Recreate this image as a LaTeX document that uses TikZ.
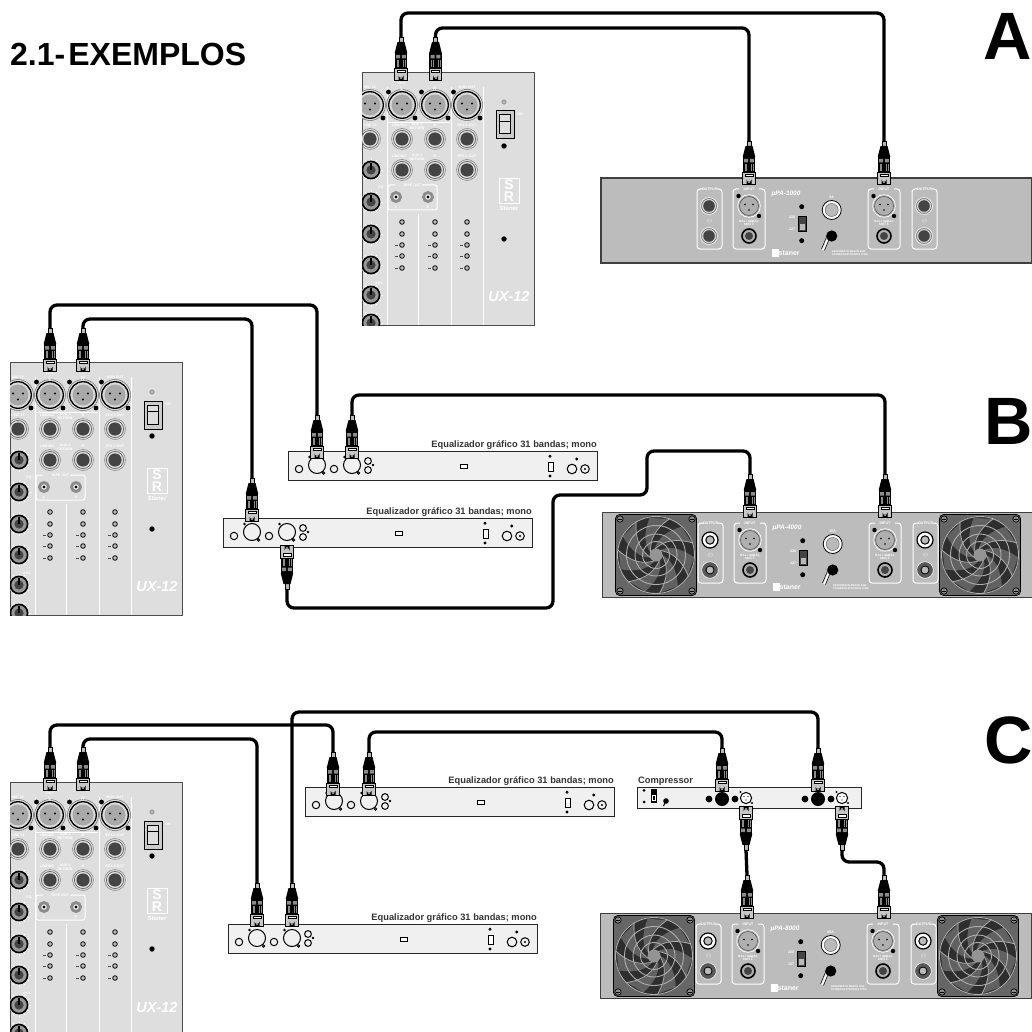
\documentclass[tikz,border=0pt]{standalone}
\usepackage{fontspec}
\setmainfont{Liberation Sans}
\definecolor{mixgray}{HTML}{DEDEDE}
\definecolor{eqgray}{HTML}{F0F0F0}
\definecolor{ampgray}{HTML}{BCBCBC}
\definecolor{darkfill}{HTML}{444444}
\definecolor{midfill}{HTML}{8C8C8C}
\tikzset{
  x=1pt,y=-1pt,
  cable/.style={line width=3.3pt,rounded corners=7pt,black},
  panelmix/.style={fill=mixgray,draw=black!70,line width=0.7pt},
  paneleq/.style={fill=eqgray,draw=black!85,line width=1pt},
  panelamp/.style={fill=ampgray,draw=black!75,line width=0.8pt},
  whiteline/.style={draw=white,line width=0.8pt},
  tiny/.style={text=white,font=\fontsize{3.6}{4}\selectfont\bfseries,inner sep=0pt,align=center},
  eqlabel/.style={font=\fontsize{9.3}{11}\selectfont\bfseries,text=black!80,inner sep=0pt},
  bigletter/.style={font=\fontsize{67}{70}\selectfont\bfseries,inner sep=0pt,anchor=base west},
  hole/.style={draw=black,line width=0.8pt,fill=none},
  holew/.style={draw=black,line width=0.9pt,fill=eqgray},
}
% plug whose cable enters from above; local height 44
\newcommand{\plugbody}{%
  \fill[midfill!60] (-2,0) rectangle (2,6);
  \draw[black,line width=0.5pt] (-2,0) rectangle (2,6);
  \fill[black] (-3.5,5) -- (3.5,5) -- (6.3,16) -- (-6.3,16) -- cycle;
  \fill[black] (-6.3,16) rectangle (6.3,31);
  \fill[midfill] (-4.8,18) rectangle (-0.8,21.5) (0.8,18) rectangle (4.8,21.5);
  \foreach \u in {-4.2,-2.5,2.5,4.2}{\draw[midfill,line width=0.4pt] (\u,23) -- (\u,30);}
  \draw[black,fill=black!22,line width=0.9pt] (-6.3,31) rectangle (6.3,43.5);
  \draw[black,fill=white,line width=0.5pt] (-4,33.2) rectangle (4,35.4);
  \fill[black] (-2.5,43.5) -- (-2.5,38.5) arc[start angle=180,end angle=0,radius=2.5] -- (2.5,43.5) -- cycle;
  \fill[midfill] (-1,40) rectangle (1,42);
}
\newcommand{\plugdown}[3]{%
  \coordinate (#1) at (#2,#3);
  \begin{scope}[shift={(#2,#3)}]\plugbody\end{scope}}
\newcommand{\plugup}[3]{%
  \coordinate (#1) at (#2,#3);
  \begin{scope}[shift={(#2,#3)},yscale=-1]\plugbody\end{scope}}
% XLR on mixer
\newcommand{\mixxlr}[2]{%
  \begin{scope}[shift={(#1,#2)}]
  \draw[black!60,line width=0.5pt,fill=mixgray] (0,0) circle (15.5);
  \draw[black,line width=1.3pt,fill=white!85!black] (0,0) circle (13.3);
  \fill[midfill!75] (0,0) circle (10.5);
  \fill[black] (-5,-1.5) circle (1.1) (5,-1.5) circle (1.1) (0,4.5) circle (1.1);
  \fill[black] (-13.5,-13) circle (2.4) (13,13) circle (2.4);
  \end{scope}}
\newcommand{\mixjack}[2]{%
  \begin{scope}[shift={(#1,#2)}]
  \draw[black!50,line width=0.5pt] (0,0) circle (10.5);
  \draw[black!60,line width=0.7pt,fill=mixgray] (0,0) circle (8.6);
  \fill[darkfill] (0,0) circle (6.6);
  \end{scope}}
\newcommand{\mixknob}[2]{%
  \begin{scope}[shift={(#1,#2)}]
  \foreach \a in {0,30,...,330}{\draw[white,line width=0.7pt] (\a:9.5) -- (\a:11.5);}
  \draw[black,line width=1.6pt,fill=midfill!90] (0,0) circle (8.6);
  \fill[darkfill] (0,0) circle (4.6);
  \draw[black,line width=1.6pt] (0,0) -- (0,-7);
  \end{scope}}
\newcommand{\mixled}[2]{%
  \draw[black,line width=0.8pt,fill=midfill!60] (#1,#2) circle (2.3);}
\newcommand{\drawmixer}[2]{%
  \begin{scope}[shift={(#1,#2)}]
  \path[panelmix] (0,0) rectangle (172,253);
  \begin{scope}
  \clip (0,0) rectangle (172,253);
  \draw[whiteline] (25,15) -- (25,253) (89,15) -- (89,253) (121,15) -- (121,253) (56,142) -- (56,253) (25,50) -- (88,50);
  \mixxlr{8}{33}\mixxlr{40}{33}\mixxlr{73}{33}\mixxlr{105}{33}
  \foreach \u in {8,40,73,105}{\mixjack{\u}{67}}
  \foreach \u in {40,73,105}{\mixjack{\u}{98}}
  \foreach \v in {98,130,162,193,223,251}{\mixknob{9}{\v}}
  \foreach \u in {40,73,105}{\foreach \v in {150,162,173,184,196}{\mixled{\u}{\v}}
    \draw[black!70,line width=0.5pt] (\u-7,173) -- (\u-4.5,173) (\u-7,184) -- (\u-4.5,184) (\u-7,196) -- (\u-4.5,196);}
  \draw[white,line width=1pt,rounded corners=2pt] (48,113) -- (75,113) -- (75,138) -- (26,138) -- (26,113) -- (33,113);
  \draw[midfill,line width=3pt,fill=white] (34,125) circle (4.4) (66,125) circle (4.4);
  \fill[black] (34,125) circle (1.7) (66,125) circle (1.7);
  \node[tiny] at (40,9.5) {MASTER\\OUT};
  \node[tiny,font=\fontsize{5}{5}\selectfont\bfseries] at (40,16.5) {L};
  \node[tiny,font=\fontsize{5}{5}\selectfont\bfseries] at (73,16.5) {R};
  \node[tiny] at (8,15) {MIC 12};
  \node[tiny] at (105,15) {MON OUT};
  \node[tiny] at (8,53) {LINE 12};
  \node[tiny] at (37,53) {L/MONO};
  \node[tiny] at (55,54) {AUX 1\\RETURN};
  \node[tiny] at (73,53) {R};
  \node[tiny] at (105,53) {EFX 2 OUT};
  \node[tiny] at (37,84) {L/MONO};
  \node[tiny] at (55,85) {AUX 2\\RETURN};
  \node[tiny] at (73,84) {R};
  \node[tiny] at (105,84) {EFX 1 OUT};
  \node[tiny,fill=mixgray,inner sep=0.6pt] at (50,113) {TAPE OUT};
  \node[tiny] at (34,135) {L};
  \node[tiny] at (66,135) {R};
  \node[tiny] at (19,116) {EQ};
  \node[tiny] at (17,211) {AUX};
  \node[tiny] at (158,42) {ON};
  % switch
  \draw[black!40,line width=0.7pt,fill=midfill!70] (142,30) circle (2.2);
  \draw[black,line width=1pt,fill=midfill!45] (134,39) rectangle (152,67);
  \draw[black,line width=1pt,fill=mixgray] (137.5,43) rectangle (148.5,62);
  \draw[black,line width=0.8pt] (137.5,49) -- (148.5,49);
  \fill[black] (142,74) circle (2.7) (142,167) circle (2.7);
  % logo
  \draw[white,line width=0.9pt] (137,106) rectangle (157,131);
  \node[text=white,inner sep=0pt,align=center,font=\fontsize{14}{12.3}\selectfont\bfseries] at (147,118.5) {S\\R};
  \node[text=white,inner sep=0pt,font=\fontsize{6}{6}\selectfont\bfseries\itshape] at (147,136) {Staner};
  \node[text=white,inner sep=0pt,font=\fontsize{14.5}{15}\selectfont\bfseries\itshape] at (147,225) {UX-12};
  \end{scope}
  \end{scope}}
% equaliser
\newcommand{\drawequ}[2]{%
  \begin{scope}[shift={(#1,#2)}]
  \path[paneleq] (0,0) rectangle (309,29);
  \draw[hole,line width=1pt] (11,18) circle (3.7) (29,14) circle (8.5) (46,18) circle (3.7) (64,14) circle (8.5)
     (80,10) circle (3.4) (80,19) circle (3.4) (284,18) circle (4.8) (297,18) circle (4.3);
  \draw[hole] (35.5,22) circle (1.2) (70.5,22) circle (1.2) (262,5.3) circle (1.1) (297,18) circle (0.5);
  \fill[black] (21.5,6) circle (1.3) (56.5,6) circle (1.3) (85,14) circle (1.3) (262,25) circle (1.6) (288.7,8) circle (1.6);
  \draw[black,line width=1pt,fill=white] (172,13.5) rectangle (179,17);
  \draw[black,line width=1pt,fill=white] (260,11) rectangle (265,20);
  \node[eqlabel,anchor=base east] at (309,-4) {Equalizador gráfico 31 bandas; mono};
  \end{scope}}
% fan
\newcommand{\drawfan}[2]{%
  \begin{scope}[shift={(#1,#2)}]
  \draw[black,line width=0.6pt,fill=black!60,rounded corners=4pt] (-40.5,-40.5) rectangle (40.5,40.5);
  \foreach \sx/\sy in {-36/-36,36/-36,-36/36,36/36}{
    \draw[black,line width=0.7pt,fill=midfill] (\sx,\sy) circle (3.2);
    \draw[black,line width=0.6pt] (\sx-2,\sy) -- (\sx+2,\sy);}
  \fill[black!82] (0,0) circle (39);
  \foreach \a in {0,51.4,102.8,154.2,205.6,257,308.4}{
    \fill[black!62] (\a:6) .. controls (\a+40:14) and (\a+55:24) .. (\a+85:38) -- (\a+55:38) .. controls (\a+30:24) and (\a+15:14) .. cycle;
    \draw[midfill!70!white,line width=0.7pt] (\a:6) .. controls (\a+40:14) and (\a+55:24) .. (\a+85:39);
  }
  \draw[midfill!70!white,line width=0.9pt] (0,0) circle (38.5) (0,0) circle (29.5) (0,0) circle (21) (0,0) circle (13.5);
  \fill[black!42] (0,0) circle (6.5);
  \end{scope}}
% amplifier; #3 model, #4 fuse, #5 = 1 with fans
\newcommand{\ampxlr}[2]{%
  \begin{scope}[shift={(#1,#2)}]
  \draw[white,line width=0.7pt,fill=midfill!70] (0,0) circle (11.3);
  \draw[black!70,line width=0.5pt] (0,0) circle (9.5);
  \fill[black] (-4,-1.5) circle (0.9) (4,-1.5) circle (0.9) (0,4) circle (0.9);
  \fill[black] (-10.5,-10) circle (2.2) (10,10) circle (2.2);
  \end{scope}}
\newcommand{\ampjackdark}[2]{%
  \draw[white,line width=0.5pt] (#1,#2) circle (8.5);
  \draw[black!60,line width=0.5pt,fill=ampgray!60] (#1,#2) circle (7.5);
  \fill[darkfill] (#1,#2) circle (5.8);}
\newcommand{\ampjackin}[2]{%
  \draw[black,line width=1.6pt,fill=midfill!70] (#1,#2) circle (7);
  \fill[darkfill] (#1,#2) circle (4);}
\newcommand{\ampjackwhite}[2]{%
  \draw[black,line width=1.2pt,fill=white] (#1,#2) circle (8);
  \draw[black,line width=1pt,fill=midfill!60] (#1,#2) circle (4.2);}
\newcommand{\ampjackgray}[2]{%
  \draw[white,line width=0.6pt,fill=black!65] (#1,#2) circle (8.3);
  \draw[black,line width=0.8pt,fill=midfill!60] (#1,#2) circle (4);}
\newcommand{\drawamp}[6]{%
  \begin{scope}[shift={(#1,#2)}]
  \path[panelamp,line width=#6] (0,0) rectangle (431,85);
  \ifnum#5=1 \drawfan{54}{43}\drawfan{378}{43}\fi
  \foreach \bl/\br in {96/121,311/336,132/164,267/299}{
    \draw[white,line width=1pt,rounded corners=3pt] (\bl+6,11) -- (\bl,11) -- (\bl,71) -- (\br,71) -- (\br,11) -- (\br-6,11);}
  \foreach \u in {108.5,323.5}{\node[tiny] at (\u,11) {OUTPUT};\node[tiny,font=\fontsize{4.5}{5}\selectfont] at (\u,43) {$\ominus$};}
  \foreach \u in {148,283}{\node[tiny] at (\u,11) {INPUT};\node[tiny,font=\fontsize{3}{3.5}\selectfont\bfseries] at (\u,45) {BAL / UNBAL\\600$\Omega$};
    \ampxlr{\u}{28}\ampjackin{\u}{58}}
  \ifnum#5=1 \ampjackwhite{108}{28}\ampjackgray{108}{58}\ampjackwhite{323}{28}\ampjackgray{323}{58}
  \else \ampjackdark{108}{28}\ampjackdark{108}{58}\ampjackdark{323}{28}\ampjackdark{323}{58}\fi
  \node[text=white,inner sep=0pt,font=\fontsize{6.5}{7}\selectfont\bfseries\itshape] at (185,15.5) {#3};
  \fill[black] (200.7,28.7) circle (2.5) (200.7,62.7) circle (2.5);
  \draw[black,fill=darkfill,line width=0.6pt] (197,38.5) rectangle (205,53.5);
  \fill[midfill!60] (198.5,46) rectangle (203.5,52);
  \node[tiny,text=white] at (191,39.5) {220};
  \node[tiny,text=white] at (191,51) {127};
  \node[tiny] at (230.7,19) {#4};
  \draw[black,line width=0.8pt,fill=white] (230.7,32) circle (9.5);
  \draw[black!60,line width=0.5pt,fill=midfill!60] (230.7,32) circle (6.5);
  \draw[white,line width=1.6pt] (222,72) -- (227,60);
  \draw[black,line width=0.5pt] (220.5,71) -- (225.5,59) (223.5,72.5) -- (228.5,60.5);
  \fill[black] (230.7,58) circle (5.6);
  \draw[white,line width=0.5pt,fill=white] (171,71.5) rectangle (177,78.5);
  \node[text=white,inner sep=0pt,anchor=west,font=\fontsize{7}{7}\selectfont\bfseries] at (177.5,75) {staner};
  \node[tiny,anchor=north west,align=left,font=\fontsize{2.6}{3.2}\selectfont\bfseries] at (231,72) {DESIGNED IN BRAZIL FOR\\STANER ELETRONICA LTDA};
  \end{scope}}
\begin{document}
\begin{tikzpicture}
\useasboundingbox (0,0) rectangle (1032,1032);
\clip (0,0) rectangle (1032,1032);
\fill[white] (0,0) rectangle (1032,1032);
\node[inner sep=0pt,anchor=base west,font=\fontsize{32}{34}\selectfont\bfseries] (title) at (10,66) {2.1-\kern3pt EXEMPLOS};
\node[bigletter] (la) at (983,60) {A};
\node[bigletter] (lb) at (984,444) {B};
\node[bigletter] (lc) at (984,763) {C};
% ---- A
\drawmixer{362}{72}
\drawamp{601}{178}{µPA-1000}{5A}{0}{2pt}
% ---- B
\drawmixer{10}{362}
\drawequ{288}{451}
\drawequ{223}{518}
\drawamp{602}{512}{µPA-4000}{15A}{1}{0.8pt}
% ---- C
\drawmixer{10}{782}
\drawequ{305}{787}
\drawequ{228}{924}
\drawamp{600}{913}{µPA-8000}{25A}{1}{0.8pt}
% compressor
\begin{scope}[shift={(637,787)}]
  \path[paneleq] (0,0) rectangle (224,21);
  \node[eqlabel,anchor=base west] (comp) at (1,-4) {Compressor};
  \fill[black] (7,3.3) circle (1.5) (7,15) circle (1.5);
  \fill[black] (14,2) rectangle (20,16);
  \draw[white,line width=0.6pt] (15.5,8) rectangle (18.5,13.5);
  \draw[black,line width=1pt] (29,14) -- (26.5,19);
  \fill[black] (29,14) circle (2.8);
  \foreach \u in {72,168}{
    \fill[black] (\u,12) circle (3.4) (\u+13,12) circle (7) (\u+26,12) circle (3.4);
    \draw[black,line width=1pt,fill=white] (\u+37,11) circle (5.6);
    \fill[black] (\u+35,9.5) circle (0.7) (\u+39,9.5) circle (0.7) (\u+37,13) circle (0.7);
    \fill[black] (\u+31.5,5) circle (1.2) (\u+43,16) circle (1.2);
  }
\end{scope}
% plugs
\plugdown{aMl}{401}{37}
\plugdown{aMr}{435.5}{37}
\plugdown{aAl}{749}{141}
\plugdown{aAr}{884}{141}
\plugdown{bMl}{50}{328}
\plugdown{bMr}{83}{328}
\plugdown{bEa}{317}{415}
\plugdown{bEb}{352}{415}
\plugdown{bEc}{252}{478}
\plugup{bEd}{287}{589}
\plugdown{bAl}{750}{474}
\plugdown{bAr}{885}{474}
\plugdown{cMl}{50}{747}
\plugdown{cMr}{83}{747}
\plugdown{cEa}{333}{752}
\plugdown{cEb}{369}{752}
\plugdown{cEc}{257}{883}
\plugdown{cEd}{292}{883}
\plugdown{cCa}{722}{748}
\plugdown{cCb}{818}{748}
\plugup{cCc}{746}{850}
\plugup{cCd}{842}{850}
\plugdown{cAl}{747}{875}
\plugdown{cAr}{884}{875}
% cables
\draw[cable] (aMl) -- (aMl |- 0,13) -- (aAr |- 0,13) -- (aAr);
\draw[cable] (aMr) -- (aMr |- 0,28) -- (aAl |- 0,28) -- (aAl);
\draw[cable] (bMl) -- (bMl |- 0,305) -- (bEa |- 0,305) -- (bEa);
\draw[cable] (bMr) -- (bMr |- 0,319) -- (bEc |- 0,319) -- (bEc);
\draw[cable] (bEb) -- (bEb |- 0,395) -- (bAr |- 0,395) -- (bAr);
\draw[cable] (bEd) -- (bEd |- 0,608) -- (553,608) -- (553,495) -- (647,495) -- (647,451) -- (bAl |- 0,451) -- (bAl);
\draw[cable] (cMl) -- (cMl |- 0,725) -- (cEa |- 0,725) -- (cEa);
\draw[cable] (cMr) -- (cMr |- 0,739) -- (cEc |- 0,739) -- (cEc);
\draw[cable] (cEb) -- (cEb |- 0,732) -- (cCa |- 0,732) -- (cCa);
\draw[cable] (cEd) -- (cEd |- 0,712) -- (cCb |- 0,712) -- (cCb);
\draw[cable] (cCc) -- (cAl);
\draw[cable] (cCd) -- (cCd |- 0,862) -- (cAr |- 0,862) -- (cAr);
\end{tikzpicture}
\end{document}
